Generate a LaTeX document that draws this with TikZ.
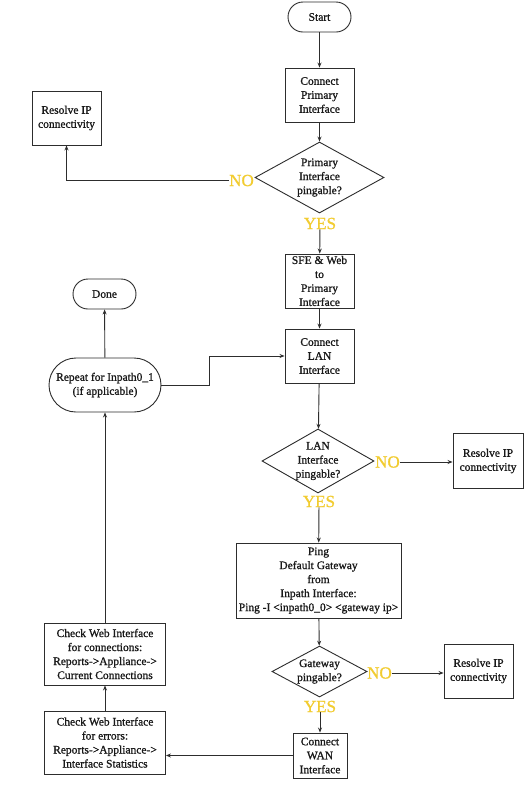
\documentclass[tikz,border=0pt]{standalone}
\usepackage{fontspec}
\setmainfont{Liberation Serif}[FakeBold=1.0]
\usetikzlibrary{shapes.geometric,arrows.meta,calc}
\definecolor{ln}{RGB}{45,45,45}
\definecolor{yel}{RGB}{242,204,48}
\tikzset{
  base/.style={draw=ln, line width=0.9pt, inner sep=0pt, align=center, text=black!90,
    font=\fontsize{11.5}{14}\selectfont},
  box/.style={base, rectangle},
  term/.style={base, rectangle, rounded corners=#1},
  dia/.style={draw=ln, line width=0.9pt, inner sep=0pt, diamond},
  dtext/.style={inner sep=0pt, align=center, text=black!90, font=\fontsize{11.5}{14}\selectfont},
  lab/.style={inner sep=0pt, text=yel, font=\fontsize{17}{17}\selectfont},
  arr/.style={draw=ln, line width=0.9pt, -{Stealth[length=5pt,width=4pt]}},
}
\begin{document}
\begin{tikzpicture}[x=1pt,y=-1pt]
\useasboundingbox[fill=white] (0,0) rectangle (525,788);
% main column
\node[term=15pt, minimum width=63pt, minimum height=30pt] (start) at (319.5,17) {Start};
\node[box, minimum width=69pt, minimum height=54pt] (cpi) at (319.5,95) {Connect\\Primary\\Interface};
\node[dia, minimum width=129pt, minimum height=71pt] (d1) at (319.5,177.5) {};
\node[dtext] (d1t) at (d1) {Primary\\Interface\\pingable?};
\node[lab, anchor=east] (no1) at (254,180.5) {NO};
\node[lab] (yes1) at (320,223.5) {YES};
\node[box, minimum width=69pt, minimum height=54pt] (resolvea) at (66.5,118) {Resolve IP\\connectivity};
\node[box, minimum width=69pt, minimum height=54pt] (sfe) at (319.5,281) {SFE \& Web\\to\\Primary\\Interface};
\node[box, minimum width=69pt, minimum height=54pt] (clan) at (319.5,356) {Connect\\LAN\\Interface};
\node[term=15pt, minimum width=63pt, minimum height=30pt] (done) at (104.5,294) {Done};
\node[term=27pt, minimum width=112pt, minimum height=54pt] (rep) at (105,385) {Repeat for Inpath0\_1\\(if applicable)};
\node[dia, minimum width=112pt, minimum height=64pt] (d2) at (318,461) {};
\node[dtext] (d2t) at (d2) {LAN\\Interface\\pingable?};
\node[lab, anchor=west] (no2) at (375,462) {NO};
\node[lab] (yes2) at (319,501.5) {YES};
\node[box, minimum width=70pt, minimum height=55pt] (resolveb) at (488,461) {Resolve IP\\connectivity};
\node[box, minimum width=165pt, minimum height=75pt] (ping) at (318.5,580.5) {Ping\\Default Gateway\\from\\Inpath Interface:\\Ping -I \textless inpath0\_0\textgreater{} \textless gateway ip\textgreater};
\node[dia, minimum width=95pt, minimum height=51pt] (d3) at (319.5,671.5) {};
\node[dtext] (d3t) at (d3) {Gateway\\pingable?};
\node[lab, anchor=west] (no3) at (367,673) {NO};
\node[lab] (yes3) at (320,706.5) {YES};
\node[box, minimum width=69pt, minimum height=54pt] (resolvec) at (478.5,671) {Resolve IP\\connectivity};
\node[box, minimum width=54pt, minimum height=45pt] (wan) at (320,755.5) {Connect\\WAN\\Interface};
\node[box, minimum width=121pt, minimum height=63pt] (errs) at (105,742.5) {Check Web Interface\\for errors:\\Reports-\textgreater Appliance-\textgreater\\Interface Statistics};
\node[box, minimum width=121pt, minimum height=62pt] (conns) at (105,654) {Check Web Interface\\for connections:\\Reports-\textgreater Appliance-\textgreater\\Current Connections};
% connectors
\draw[arr] (start) -- (cpi);
\draw[arr] (cpi) -- (d1);
\draw[arr] (no1.west) -| (resolvea.south);
\draw[arr] (yes1) -- (sfe);
\draw[arr] (sfe) -- (clan);
\draw[arr] (clan) -- (d2);
\draw[arr] (no2.east) -- (no2.east -| resolveb.west);
\draw[arr] (yes2) -- (ping);
\draw[arr] (ping) -- (d3);
\draw[arr] (no3.east) -- (no3.east -| resolvec.west);
\draw[arr] (yes3) -- (wan);
\draw[arr] (wan.west) -- (wan.west -| errs.east);
\draw[arr] (errs) -- (conns);
\draw[arr] (conns) -- (rep);
\draw[arr] (rep) -- (done);
\coordinate (elb) at ($(rep.east)+(48,0)$);
\draw[arr] (rep.east) -- (elb) |- (clan.west);
\end{tikzpicture}
\end{document}
